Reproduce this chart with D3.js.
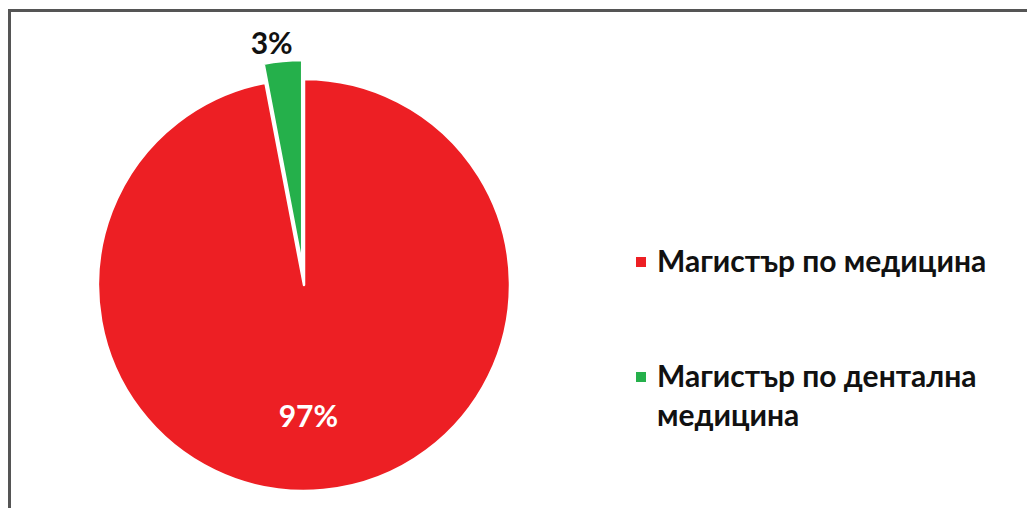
<!DOCTYPE html>
<html>
<head>
<meta charset="utf-8">
<script src="https://cdn.jsdelivr.net/npm/d3@7"></script>
<style>
  html, body { margin: 0; padding: 0; background: #fff; }
  svg { display: block; }
  text { font-family: Lato, Carlito, "Open Sans", sans-serif; font-weight: 700; }
</style>
</head>
<body>
<svg id="chart" width="1027" height="508"></svg>
<script>
// Distribution of graduates by master's programme (percent)
const categories = ["Магистър по медицина", "Магистър по дентална медицина"];
const values = [97, 3];
const labels = ["97%", "3%"];
const legendLines = [["Магистър по медицина"], ["Магистър по дентална", "медицина"]];
const colors = ["#ED1F24", "#25B04B"];

const W = 1027, H = 508;
const svg = d3.select("#chart");

// Frame of the chart area
svg.append("rect")
  .attr("x", 9.5).attr("y", 10.5)
  .attr("width", W + 20).attr("height", H + 20)
  .attr("fill", "#fff")
  .attr("stroke", "#555").attr("stroke-width", 3);

const cx = 304, cy = 285, r = 206, explode = 19;

const pie = d3.pie().sort(null).value(d => d)(values);
const arc = d3.arc().innerRadius(0).outerRadius(r);

const g = svg.append("g").attr("transform", `translate(${cx},${cy})`);

// The smaller slice is pulled out along its bisector
const offset = (d, i) => {
  if (i === 0) return [0, 0];
  const a = (d.startAngle + d.endAngle) / 2;
  return [Math.sin(a) * explode, -Math.cos(a) * explode];
};

g.selectAll("path.slice")
  .data(pie)
  .join("path")
  .attr("class", "slice")
  .attr("d", arc)
  .attr("transform", (d, i) => { const o = offset(d, i); return `translate(${o[0]},${o[1]})`; })
  .attr("fill", (d, i) => colors[i])
  .attr("stroke", "#fff")
  .attr("stroke-width", 2.5)
  .attr("stroke-linejoin", "round");

// Value labels: large slice inside, small slice outside its end
const inner = d3.arc().innerRadius(r * 0.64).outerRadius(r * 0.64);
const p0 = inner.centroid(pie[0]);
g.append("text")
  .attr("x", p0[0] - 8).attr("y", p0[1] + 11)
  .attr("text-anchor", "middle")
  .attr("fill", "#fff")
  .attr("font-size", 30)
  .text(labels[0]);

const a1 = (pie[1].startAngle + pie[1].endAngle) / 2;
const rl = r + explode + 12;
g.append("text")
  .attr("x", Math.sin(a1) * rl - 10).attr("y", -Math.cos(a1) * rl + 5)
  .attr("text-anchor", "middle")
  .attr("fill", "#111")
  .attr("font-size", 30)
  .text(labels[1]);

// Legend
const legend = svg.append("g").attr("transform", "translate(636,0)");
const legendY = [272, 387];
const item = legend.selectAll("g.item")
  .data(categories)
  .join("g")
  .attr("class", "item")
  .attr("transform", (d, i) => `translate(0,${legendY[i]})`);

item.append("rect")
  .attr("x", 0).attr("y", -15)
  .attr("width", 10).attr("height", 10)
  .attr("fill", (d, i) => colors[i]);

item.append("text")
  .attr("x", 21).attr("y", 0)
  .attr("fill", "#111")
  .attr("font-size", 30)
  .selectAll("tspan")
  .data((d, i) => legendLines[i])
  .join("tspan")
  .attr("x", 21)
  .attr("dy", (d, j) => j === 0 ? 0 : 39)
  .text(d => d);
</script>
</body>
</html>
